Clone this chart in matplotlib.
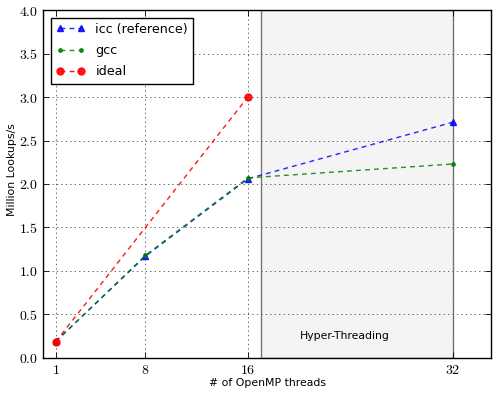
import numpy as np
import matplotlib
matplotlib.use('Agg')
from matplotlib import pyplot as plt

plt.rcParams['mathtext.fontset'] = 'cm'
plt.rcParams['font.family'] = 'DejaVu Sans'
plt.rcParams['lines.scale_dashes'] = False
plt.rcParams['lines.dashed_pattern'] = [3.5, 3]

# datos
hilos = [1, 8, 16, 32]
icc = [0.19, 1.17, 2.06, 2.71]
gcc = [0.19, 1.18, 2.07, 2.23]
hilos_ideal = [1, 16]
ideal = [0.1875, 3.0]

xticks = [1, 8, 16, 32]
yticks = [0.0, 0.5, 1.0, 1.5, 2.0, 2.5, 3.0, 3.5, 4.0]

fig = plt.figure(figsize=(4.98, 3.94), dpi=100)
ax = fig.add_axes([0.0863, 0.0914, 0.9, 0.8832])

# zona hyper-threading
ax.axvspan(17, 32, facecolor='#f4f4f4', edgecolor='#777777', linewidth=1, zorder=0)
ax.text(23.6, 0.25, 'Hyper-Threading', ha='center', va='center', fontsize=7.8)

ax.plot(hilos, icc, 'b--^', markersize=5, linewidth=1, alpha=0.85, label='icc (reference)')
ax.plot(hilos, gcc, 'g--.', markersize=5, linewidth=1, alpha=0.85, label='gcc')
ax.plot(hilos_ideal, ideal, 'r--o', markersize=5, linewidth=1, alpha=0.9, label='ideal')

ax.set_xlim(0, 35)
ax.set_ylim(0, 4)
ax.set_xticks(xticks)
ax.set_xticklabels(['$%d$' % v for v in xticks])
ax.set_yticks(yticks)
ax.set_yticklabels(['$%.1f$' % v for v in yticks])
ax.tick_params(direction='in', top=True, right=True, labelsize=10, length=4, width=0.6)
ax.grid(True, linestyle=(0, (1, 2.2)), color='#666666', linewidth=0.7)
ax.set_axisbelow(True)
for s in ax.spines.values():
    s.set_linewidth(1)

ax.set_xlabel('# of OpenMP threads', fontsize=7.8, labelpad=1)
ax.set_ylabel('Million Lookups/s', fontsize=7.8)
ax.yaxis.set_label_coords(-0.058, 0.54)

leg = ax.legend(loc='upper left', numpoints=2, fontsize=9.2, fancybox=False,
                framealpha=1, edgecolor='black', handlelength=2.3,
                borderaxespad=0.6, labelspacing=0.65)
leg.get_frame().set_linewidth(1)

fig.savefig('out.png', dpi=100)
